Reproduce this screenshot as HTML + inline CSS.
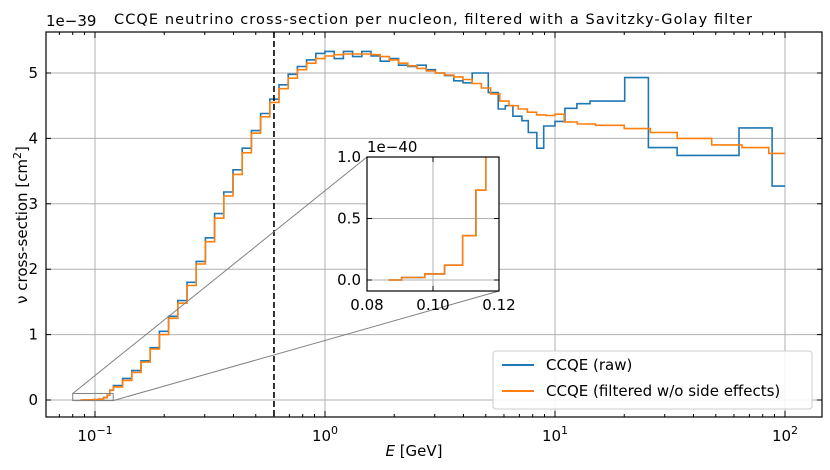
<!DOCTYPE html>
<html><head><meta charset="utf-8"><style>
body{margin:0;background:#fff}
svg{display:block;font-family:"DejaVu Sans","Liberation Sans",sans-serif}
</style></head><body>
<svg id="chart" width="830" height="470" viewBox="0 0 830 470" xmlns="http://www.w3.org/2000/svg">
<defs><clipPath id="pc"><rect x="46" y="32" width="776" height="385"/></clipPath>
<clipPath id="ic"><rect x="367" y="157" width="132" height="134"/></clipPath></defs>
<g id="grid"></g>
<g id="series" clip-path="url(#pc)"></g>
<g id="axes"></g>
<text x="433" y="24" text-anchor="middle" font-size="14.5" textLength="638">CCQE neutrino cross-section per nucleon, filtered with a Savitzky-Golay filter</text>
<text x="46" y="26" font-size="15">1e−39</text>
<text transform="translate(27,225) rotate(-90)" text-anchor="middle" font-size="15">ν cross-section [cm<tspan dy="-6" font-size="11">2</tspan><tspan dy="6">]</tspan></text>
<text x="414" y="456" text-anchor="middle" font-size="15"><tspan font-style="italic">E</tspan> [GeV]</text>
<g id="inset"></g>
<g>
<rect x="493" y="351" width="319" height="58" rx="3" fill="#fff" fill-opacity="0.85" stroke="#ccc"/>
<line x1="502" y1="365" x2="534" y2="365" stroke="#1f77b4" stroke-width="2"/>
<text x="546" y="370" font-size="15">CCQE (raw)</text>
<line x1="502" y1="391" x2="534" y2="391" stroke="#ff7f0e" stroke-width="2"/>
<text x="546" y="396" font-size="15">CCQE (filtered w/o side effects)</text>
</g>
</svg>
<script>
// ---- data (values in 1e-39 cm^2, edges in log10(E/GeV)) ----
const orangePreEdgesE = [0.0865,0.0905,0.0975,0.1035,0.109,0.113,0.116,0.1202];
const orangePreValues = [0,0.002,0.005,0.012,0.036,0.073,0.15];
const lowStartLog = -0.92, lowStepLog = 0.04;
const orangeLowValues = [0.2,0.3,0.42,0.58,0.78,1.0,1.25,1.48,1.75,2.08,2.42,2.78,3.12,3.45,3.78,4.08,4.33,4.55,4.76,4.92,5.05,5.15,5.22,5.26,5.28,5.29,5.29,5.29,5.28,5.25,5.2,5.15,5.11,5.07,5.03,5.0,4.97,4.94,4.9,4.84,4.77,4.68,4.57,4.5,4.45,4.4,4.36,4.35,4.37];
const orangeHighEdgesE = [10.96,12.5,15,20,26,34,48,65,85,100];
const orangeHighValues = [4.31,4.25,4.22,4.2,4.15,4.09,4.0,3.9,3.86,3.77];
const blueLowValues = [0.22,0.33,0.45,0.6,0.8,1.05,1.28,1.52,1.8,2.12,2.48,2.85,3.18,3.52,3.85,4.12,4.38,4.6,4.82,4.98,5.1,5.2,5.3,5.33,5.22,5.33,5.25,5.33,5.26,5.18,5.22,5.12,5.1,5.12,5.05,5.0,4.96,4.88,4.85];
const blueHighEdgesLog = [0.64,0.71,0.753,0.784,0.817,0.856,0.884,0.921,0.951,1.0,1.043,1.095,1.152,1.303,1.406,1.531,1.8,1.944,2.0];
const blueHighValues = [5.0,4.7,4.45,4.5,4.34,4.27,4.09,3.85,4.19,4.26,4.46,4.53,4.57,4.93,3.86,3.74,4.16,3.27];
const yTicks = [0,1,2,3,4,5];
const xDecades = [-1,0,1,2];
const insetXTicks = [0.08,0.10,0.12];
const insetXLabels = ["0.08","0.10","0.12"];
const insetYTicks = [0,0.5,1.0];
const insetYLabels = ["0.0","0.5","1.0"];
const cutEnergy = 0.6;

const NS="http://www.w3.org/2000/svg";
const X0=46,X1=822,Y0=32,Y1=417;
const xs = l => 325 + 230*l;           // log10 E -> px
const xE = e => xs(Math.log10(e));
const ys = v => 400 - 65.4*v;
function el(tag, attrs, parent){const e=document.createElementNS(NS,tag);for(const k in attrs)e.setAttribute(k,attrs[k]);parent.appendChild(e);return e;}

// build step series as list of [edgeLogStart, edgeLogEnd, value]
function buildOrange(){
  const s=[];
  for(let i=0;i<orangePreValues.length;i++) s.push([Math.log10(orangePreEdgesE[i]),Math.log10(orangePreEdgesE[i+1]),orangePreValues[i]]);
  for(let i=0;i<orangeLowValues.length;i++) s.push([lowStartLog+i*lowStepLog,lowStartLog+(i+1)*lowStepLog,orangeLowValues[i]]);
  let prev = lowStartLog+orangeLowValues.length*lowStepLog;
  for(let i=0;i<orangeHighValues.length;i++){const e=Math.log10(orangeHighEdgesE[i]);s.push([prev,e,orangeHighValues[i]]);prev=e;}
  return s;
}
function buildBlue(){
  const s=[];
  for(let i=0;i<orangePreValues.length;i++) s.push([Math.log10(orangePreEdgesE[i]),Math.log10(orangePreEdgesE[i+1]),orangePreValues[i]]);
  for(let i=0;i<blueLowValues.length;i++) s.push([lowStartLog+i*lowStepLog,lowStartLog+(i+1)*lowStepLog,blueLowValues[i]]);
  for(let i=0;i<blueHighValues.length;i++) s.push([blueHighEdgesLog[i],blueHighEdgesLog[i+1],blueHighValues[i]]);
  return s;
}
function stepPath(s, fx, fy){
  let d='';
  s.forEach((b,i)=>{const x0=fx(b[0]),x1=fx(b[1]),y=fy(b[2]);d+=(i?'L':'M')+x0.toFixed(1)+','+y.toFixed(1)+'L'+x1.toFixed(1)+','+y.toFixed(1);});
  return d;
}
const grid=document.getElementById('grid'), ser=document.getElementById('series'), ax=document.getElementById('axes');
yTicks.forEach(v=>{const g=el('line',{x1:X0,x2:X1,y1:ys(v),y2:ys(v),stroke:'#b0b0b0','stroke-width':1},grid);

});
xDecades.forEach(d=>{const g=el('line',{x1:xs(d),x2:xs(d),y1:Y0,y2:Y1,stroke:'#b0b0b0','stroke-width':1},grid);

});

const orange=buildOrange(), blue=buildBlue();
const pb=el('path',{d:stepPath(blue,xs,ys),fill:'none',stroke:'#1f77b4','stroke-width':1.6},ser);


const po=el('path',{d:stepPath(orange,xs,ys),fill:'none',stroke:'#ff7f0e','stroke-width':1.6},ser);


const cl=el('line',{x1:xE(cutEnergy),x2:xE(cutEnergy),y1:Y0,y2:Y1,stroke:'#000','stroke-width':1.6,'stroke-dasharray':'6,3'},ser);



// zoom rectangle + connectors
const rx0=xE(0.08),rx1=xE(0.12),ry0=ys(0.1),ry1=ys(-0.009);
const zr=el('rect',{x:rx0,y:ry0,width:rx1-rx0,height:ry1-ry0,fill:'none',stroke:'#808080','stroke-width':1},ax);


const c1=el('line',{x1:rx0,y1:ry0,x2:367,y2:157,stroke:'#808080','stroke-width':1},ax);


const c2=el('line',{x1:rx1,y1:ry1,x2:499,y2:291,stroke:'#808080','stroke-width':1},ax);



// frame and ticks
const fr=el('rect',{x:X0,y:Y0,width:X1-X0,height:Y1-Y0,fill:'none',stroke:'#000','stroke-width':1.2},ax);


yTicks.forEach(v=>{const y=ys(v);
el('line',{x1:X0,x2:X0+5,y1:y,y2:y,stroke:'#000'},ax);el('line',{x1:X1-5,x2:X1,y1:y,y2:y,stroke:'#000'},ax);
const t=el('text',{x:X0-8,y:y+5,'text-anchor':'end','font-size':15},ax);t.textContent=v;

});
for(let d=-2;d<=2;d++)for(let m=1;m<10;m++){const x=xs(d+Math.log10(m));if(x<X0||x>X1)continue;const L=m===1?6:3;
el('line',{x1:x,x2:x,y1:Y1,y2:Y1-L,stroke:'#000'},ax);el('line',{x1:x,x2:x,y1:Y0,y2:Y0+L,stroke:'#000'},ax);}
xDecades.forEach(d=>{const t=el('text',{x:xs(d),y:441,'text-anchor':'middle','font-size':15},ax);
t.innerHTML='10<tspan dy="-7" font-size="11">'+(d<0?'−'+(-d):d)+'</tspan>';

});

// inset
const ins=document.getElementById('inset');
const IX0=367,IX1=499,IY0=157,IY1=291;
const ix=e=>IX0+(e-0.08)/0.04*(IX1-IX0);
const iy=v=>280-v*123;   // v in 1e-40
el('rect',{x:IX0,y:IY0,width:IX1-IX0,height:IY1-IY0,fill:'#fff'},ins);
insetXTicks.forEach(e=>{el('line',{x1:ix(e),x2:ix(e),y1:IY0,y2:IY1,stroke:'#b0b0b0'},ins);});
insetYTicks.forEach(v=>{el('line',{x1:IX0,x2:IX1,y1:iy(v),y2:iy(v),stroke:'#b0b0b0'},ins);});
const ig=el('g',{'clip-path':'url(#ic)'},ins);
const ibx=l=>ix(Math.pow(10,l)), iby=v=>iy(v*10);
const ib=el('path',{d:stepPath(blue,ibx,iby),fill:'none',stroke:'#1f77b4','stroke-width':1.6},ig);


const io=el('path',{d:stepPath(orange,ibx,iby),fill:'none',stroke:'#ff7f0e','stroke-width':1.6},ig);


el('rect',{x:IX0,y:IY0,width:IX1-IX0,height:IY1-IY0,fill:'none',stroke:'#000','stroke-width':1.2},ins);
insetXTicks.forEach((e,i)=>{el('line',{x1:ix(e),x2:ix(e),y1:IY1,y2:IY1-5,stroke:'#000'},ins);el('line',{x1:ix(e),x2:ix(e),y1:IY0,y2:IY0+5,stroke:'#000'},ins);
const t=el('text',{x:ix(e),y:310,'text-anchor':'middle','font-size':15},ins);t.textContent=insetXLabels[i];

});
insetYTicks.forEach((v,i)=>{el('line',{x1:IX0,x2:IX0+5,y1:iy(v),y2:iy(v),stroke:'#000'},ins);el('line',{x1:IX1-5,x2:IX1,y1:iy(v),y2:iy(v),stroke:'#000'},ins);
const t=el('text',{x:IX0-6,y:iy(v)+5,'text-anchor':'end','font-size':15},ins);t.textContent=insetYLabels[i];

});
const io2=el('text',{x:367,y:152,'font-size':15},ins);io2.textContent='1e−40';


</script>
</body></html>
